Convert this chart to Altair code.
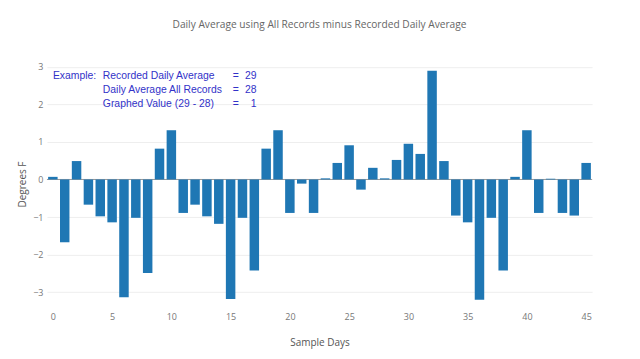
import altair as alt
import pandas as pd

days = list(range(46))
values = [0.07, -1.67, 0.49, -0.67, -0.98, -1.14, -3.13, -1.02, -2.49, 0.82,
          1.31, -0.89, -0.67, -0.98, -1.18, -3.18, -1.02, -2.42, 0.82, 1.31,
          -0.89, -0.11, -0.89, 0.03, 0.44, 0.91, -0.27, 0.31, 0.03, 0.52,
          0.95, 0.68, 2.89, 0.49, -0.96, -1.14, -3.20, -1.02, -2.42, 0.07,
          1.31, -0.89, 0.02, -0.89, -0.96, 0.44]
x_ticks = [0, 5, 10, 15, 20, 25, 30, 35, 40, 45]
y_ticks = [-3, -2, -1, 0, 1, 2, 3]

note_labels = ["Recorded Daily Average", "Daily Average All Records", "Graphed Value (29 - 28)"]
note_values = ["29", "28", "1"]

df = pd.DataFrame({"day": days, "value": values})

W, H = 546, 244
FONT = "Open Sans"
BLUE = "#3232c8"
NFS = 10.4

xscale = alt.Scale(domain=[-0.5, 45.5], nice=False, zero=False)
yscale = alt.Scale(domain=[-3.36, 3.12], nice=False, zero=False)

base = alt.Chart(df)

bars = base.transform_calculate(
    x0="datum.day - 0.4", x1="datum.day + 0.4"
).mark_bar(color="#1f77b4").encode(
    x=alt.X("x0:Q", scale=xscale,
            axis=alt.Axis(values=x_ticks, title="Sample Days", grid=False,
                          domain=False, ticks=False, labelFontSize=9,
                          labelColor="#777", labelPadding=7, labelFont=FONT,
                          titleFont=FONT, titleFontSize=10, titleColor="#555",
                          titleFontWeight="normal", titlePadding=16)),
    x2="x1:Q",
    y=alt.Y("value:Q", scale=yscale,
            axis=alt.Axis(values=y_ticks, title="Degrees F", grid=True,
                          gridColor="#eeeeee", domain=False, ticks=False,
                          labelFontSize=9, labelColor="#777", labelPadding=4,
                          labelFont=FONT, titleFont=FONT, titleFontSize=10,
                          titleColor="#555", titleFontWeight="normal",
                          titlePadding=5)),
    y2=alt.datum(0),
)

zero = alt.Chart(pd.DataFrame({"z": [0]})).mark_rule(color="#999", strokeWidth=1).encode(
    y=alt.Y("z:Q", scale=yscale)
)

ndf = pd.DataFrame({"label": note_labels, "val": note_values, "row": [0, 1, 2]})

ex = alt.Chart(pd.DataFrame({"t": ["Example:"]})).mark_text(
    align="left", baseline="middle", font="Liberation Sans", fontSize=NFS, color=BLUE
).encode(text="t:N", x=alt.value(6), y=alt.value(14))

labels = alt.Chart(ndf).transform_calculate(py="14 + datum.row * 14").mark_text(
    align="left", baseline="middle", font="Liberation Sans", fontSize=NFS, color=BLUE
).encode(text="label:N", x=alt.value(56), y=alt.Y("py:Q", scale=None))

eqs = alt.Chart(ndf).transform_calculate(py="14 + datum.row * 14", eq="'='").mark_text(
    align="left", baseline="middle", font="Liberation Sans", fontSize=NFS, color=BLUE
).encode(text="eq:N", x=alt.value(186), y=alt.Y("py:Q", scale=None))

nums = alt.Chart(ndf).transform_calculate(py="14 + datum.row * 14").mark_text(
    align="right", baseline="middle", font="Liberation Sans", fontSize=NFS, color=BLUE
).encode(text="val:N", x=alt.value(210), y=alt.Y("py:Q", scale=None))

chart = alt.layer(zero, bars, ex, labels, eqs, nums).properties(
    width=W, height=H,
    title=alt.TitleParams("Daily Average using All Records minus Recorded Daily Average",
                          font=FONT, fontSize=10.2, color="#666", fontWeight="normal",
                          anchor="middle", offset=32),
    autosize=alt.AutoSizeParams(type="none"),
    padding={"left": 39, "top": 54, "right": 40, "bottom": 45},
).configure_view(stroke=None)

chart.save("out.html", embed_options={"renderer": "svg", "actions": False})
